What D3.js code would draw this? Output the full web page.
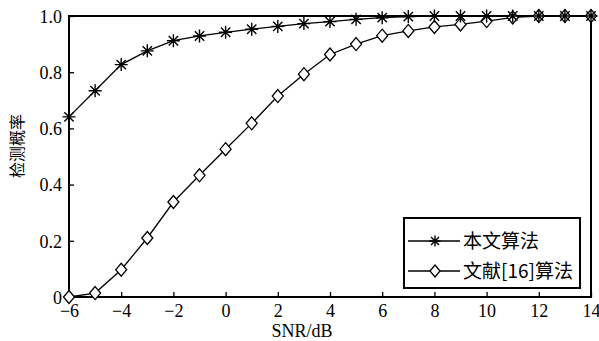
<!DOCTYPE html>
<html>
<head>
<meta charset="utf-8">
<script src="https://cdn.jsdelivr.net/npm/d3@7"></script>
<style>
  body { margin: 0; background: #fff; }
  svg { display: block; }
</style>
</head>
<body>
<div id="chart"></div>
<script>
// SNR 取值和两条曲线
const snr = [-6, -5, -4, -3, -2, -1, 0, 1, 2, 3, 4, 5, 6, 7, 8, 9, 10, 11, 12, 13, 14];
const oursValues = [0.641, 0.734, 0.827, 0.876, 0.912, 0.929, 0.942, 0.953, 0.963, 0.973, 0.980, 0.988, 0.994, 0.998, 1, 1, 1, 1, 1, 1, 1];
const refValues = [0, 0.014, 0.097, 0.21, 0.338, 0.433, 0.526, 0.618, 0.715, 0.793, 0.863, 0.9, 0.93, 0.947, 0.961, 0.97, 0.982, 0.995, 1, 1, 1];
const xTicks = [-6, -4, -2, 0, 2, 4, 6, 8, 10, 12, 14];
const yTicks = [0, 0.2, 0.4, 0.6, 0.8, 1.0];
const seriesNames = ['本文算法', '文献[16]算法'];

const W = 599, H = 341;
const margin = { top: 16, right: 8, bottom: 44, left: 69 };
const width = 591 - margin.left;
const height = 297 - margin.top;

const svg = d3.select('#chart').append('svg')
  .attr('width', W).attr('height', H);

const g = svg.append('g')
  .attr('transform', `translate(${margin.left},${margin.top})`);

const x = d3.scaleLinear().domain([-6, 14]).range([0, width]);
const y = d3.scaleLinear().domain([0, 1]).range([height, 0]);

const serif = '"Liberation Serif", "Times New Roman", serif';
const cjk = '"Noto Sans CJK SC", sans-serif';

// 坐标轴（刻度朝内）
const xAxis = g.append('g')
  .attr('transform', `translate(0,${height})`)
  .call(d3.axisBottom(x).tickValues(xTicks).tickSizeInner(-5).tickSizeOuter(0)
    .tickFormat(d => d < 0 ? '\u2212' + Math.abs(d) : d));
const yAxis = g.append('g')
  .call(d3.axisLeft(y).tickValues(yTicks).tickSizeInner(-5).tickSizeOuter(0)
    .tickFormat(d => d === 0 ? '0' : d.toFixed(1)));

[xAxis, yAxis].forEach(a => {
  a.select('.domain').remove();
  a.selectAll('line').attr('stroke', '#000').attr('stroke-width', 1.3);
  a.selectAll('text').attr('fill', '#000').style('font-family', serif).style('font-size', '18px');
});
xAxis.selectAll('text').attr('dy', '0').attr('y', 20);
yAxis.selectAll('text').attr('x', -7).attr('dy', '0.35em');

// 边框
g.append('rect')
  .attr('x', 0).attr('y', 0).attr('width', width).attr('height', height)
  .attr('fill', 'none').attr('stroke', '#000').attr('stroke-width', 2);

const line = d3.line().x((d, i) => x(snr[i])).y(d => y(d));

function drawStar(sel, s) {
  const r = s / 2, q = r * 0.72;
  sel.append('path')
    .attr('d', `M${-r},0L${r},0M0,${-r}L0,${r}M${-q},${-q}L${q},${q}M${-q},${q}L${q},${-q}`)
    .attr('stroke', '#000').attr('stroke-width', 1.4).attr('fill', 'none');
}
function drawDiamond(sel, w, h) {
  sel.append('path')
    .attr('d', `M0,${-h / 2}L${w / 2},0L0,${h / 2}L${-w / 2},0Z`)
    .attr('stroke', '#000').attr('stroke-width', 1.3).attr('fill', '#fff');
}

// 曲线
g.append('path').datum(refValues).attr('d', line)
  .attr('fill', 'none').attr('stroke', '#000').attr('stroke-width', 1.3);
g.append('path').datum(oursValues).attr('d', line)
  .attr('fill', 'none').attr('stroke', '#000').attr('stroke-width', 1.3);

g.selectAll('.dm').data(refValues).enter().append('g')
  .attr('transform', (d, i) => `translate(${x(snr[i])},${y(d)})`)
  .each(function () { drawDiamond(d3.select(this), 11, 13); });
g.selectAll('.st').data(oursValues).enter().append('g')
  .attr('transform', (d, i) => `translate(${x(snr[i])},${y(d)})`)
  .each(function () { drawStar(d3.select(this), 13); });

// 轴标题
svg.append('text')
  .attr('x', 302).attr('y', 337)
  .attr('text-anchor', 'middle')
  .style('font-family', serif).style('font-size', '18px')
  .text('SNR/dB');
svg.append('text')
  .attr('transform', 'translate(17,146) rotate(-90)')
  .attr('text-anchor', 'middle')
  .attr('dy', '0.35em')
  .style('font-family', cjk).style('font-size', '16px')
  .text('检测概率');

// 图例
const legend = svg.append('g');
legend.append('rect')
  .attr('x', 404).attr('y', 218).attr('width', 176).attr('height', 70)
  .attr('fill', '#fff').attr('stroke', '#000').attr('stroke-width', 2);
const rows = [241, 271];
rows.forEach((ry, i) => {
  legend.append('line')
    .attr('x1', 408).attr('x2', 460).attr('y1', ry).attr('y2', ry)
    .attr('stroke', '#000').attr('stroke-width', 1.3);
  const m = legend.append('g').attr('transform', `translate(435,${ry})`);
  if (i === 0) drawStar(m, 11); else drawDiamond(m, 10, 12);
  legend.append('text')
    .attr('x', 463).attr('y', ry).attr('dy', '0.35em')
    .style('font-family', cjk).style('font-size', '19px')
    .text(seriesNames[i]);
});
</script>
</body>
</html>
